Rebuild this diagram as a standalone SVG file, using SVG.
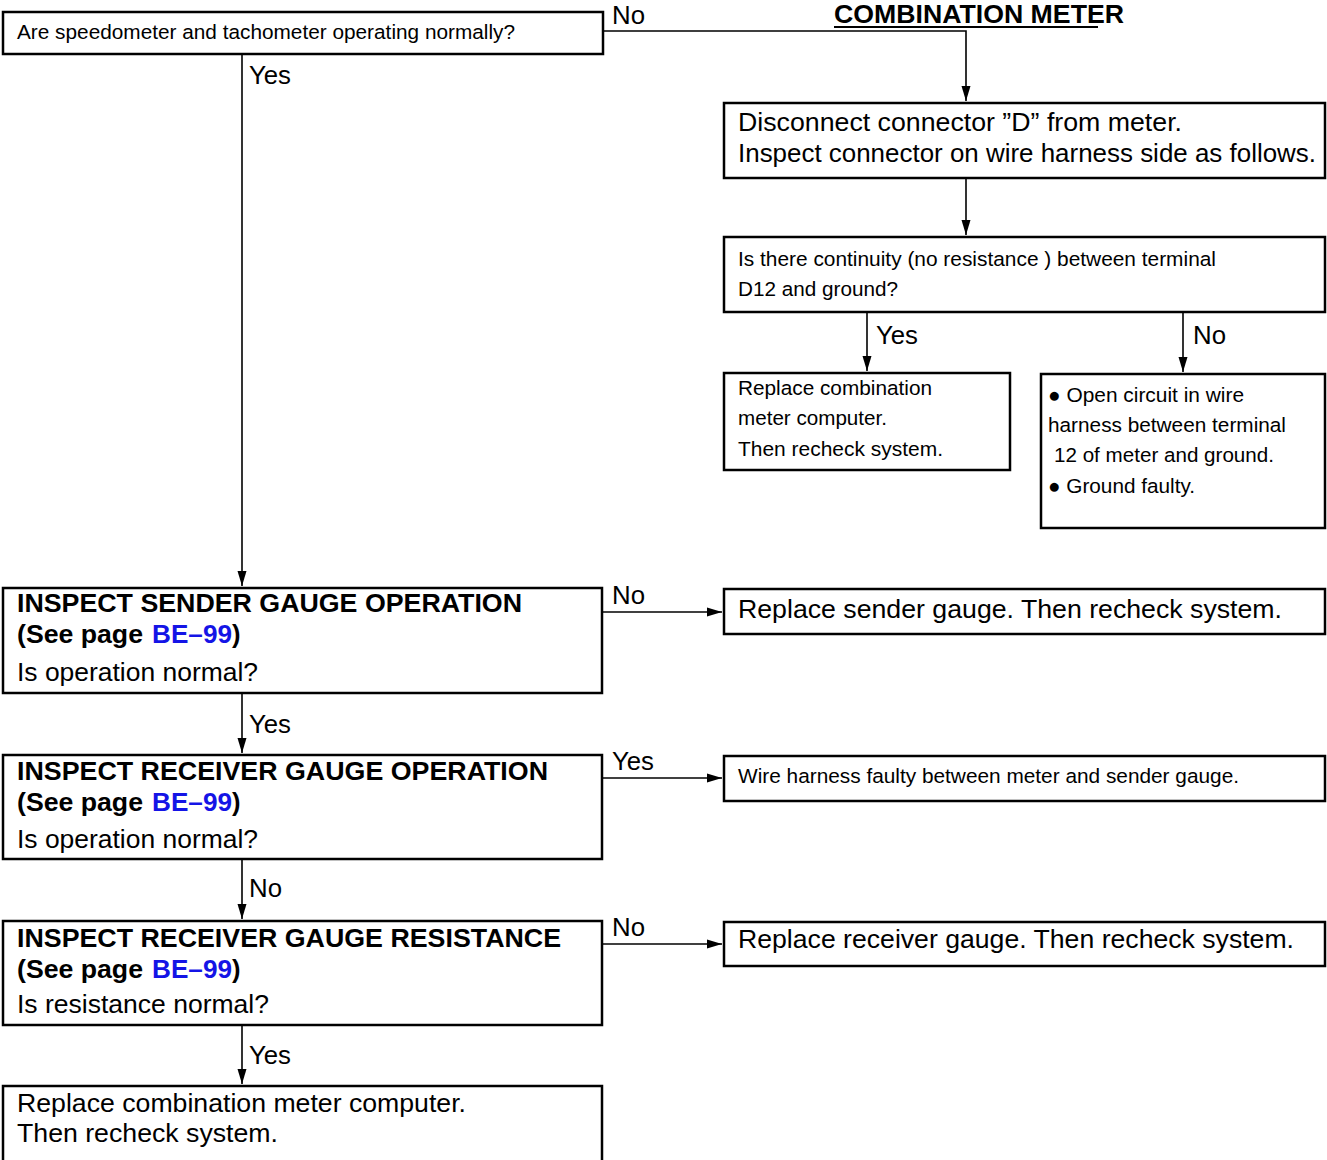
<svg xmlns="http://www.w3.org/2000/svg" width="1327" height="1160" viewBox="0 0 1327 1160">
  <style>
    .box { fill: #fff; stroke: #000; stroke-width: 2.5; }
    .wire { fill: none; stroke: #000; stroke-width: 1.6; }
    text { font-family: "Liberation Sans", Arial, sans-serif; fill: #000; }
    .s { font-size: 20.5px; }
    .m { font-size: 25.5px; }
    .b { font-size: 25.5px; font-weight: bold; }
    .link { fill: #1414e6; }
  </style>
  <defs>
    <marker id="arr" markerUnits="userSpaceOnUse" markerWidth="16" markerHeight="10" refX="15" refY="5" orient="auto">
      <path d="M0,0.5 L15,5 L0,9.5 Z" fill="#000"/>
    </marker>
  </defs>
  <rect width="1327" height="1160" fill="#fff"/>

  <!-- connectors and their branch labels -->
  <g id="connectors">
    <path class="wire" d="M603,31 H966 V101" marker-end="url(#arr)"/>
    <path class="wire" d="M966,178 V235" marker-end="url(#arr)"/>
    <path class="wire" d="M867,312 V371" marker-end="url(#arr)"/>
    <path class="wire" d="M1183,312 V372" marker-end="url(#arr)"/>
    <path class="wire" d="M242,54 V586" marker-end="url(#arr)"/>
    <path class="wire" d="M602,612 H722" marker-end="url(#arr)"/>
    <path class="wire" d="M242,693 V753" marker-end="url(#arr)"/>
    <path class="wire" d="M602,778 H722" marker-end="url(#arr)"/>
    <path class="wire" d="M242,859 V919" marker-end="url(#arr)"/>
    <path class="wire" d="M602,944 H722" marker-end="url(#arr)"/>
    <path class="wire" d="M242,1025 V1084" marker-end="url(#arr)"/>
    <text class="m" x="612" y="24" textLength="33" lengthAdjust="spacingAndGlyphs">No</text>
    <text class="m" x="249" y="84" textLength="42" lengthAdjust="spacingAndGlyphs">Yes</text>
    <text class="m" x="876" y="344" textLength="42" lengthAdjust="spacingAndGlyphs">Yes</text>
    <text class="m" x="1193" y="344" textLength="33" lengthAdjust="spacingAndGlyphs">No</text>
    <text class="m" x="612" y="604" textLength="33" lengthAdjust="spacingAndGlyphs">No</text>
    <text class="m" x="249" y="733" textLength="42" lengthAdjust="spacingAndGlyphs">Yes</text>
    <text class="m" x="612" y="770" textLength="42" lengthAdjust="spacingAndGlyphs">Yes</text>
    <text class="m" x="249" y="897" textLength="33" lengthAdjust="spacingAndGlyphs">No</text>
    <text class="m" x="612" y="936" textLength="33" lengthAdjust="spacingAndGlyphs">No</text>
    <text class="m" x="249" y="1064" textLength="42" lengthAdjust="spacingAndGlyphs">Yes</text>
  </g>

  <!-- heading -->
  <g id="title">
    <text class="b" x="834" y="23" textLength="290" lengthAdjust="spacingAndGlyphs">COMBINATION METER</text>
    <line x1="834" y1="27" x2="1098" y2="27" stroke="#000" stroke-width="2"/>
  </g>

  <g id="q-speedometer">
    <rect class="box" x="3" y="12" width="600" height="42"/>
    <text class="s" x="17" y="39" textLength="498" lengthAdjust="spacingAndGlyphs">Are speedometer and tachometer operating normally?</text>
  </g>

  <g id="disconnect-d">
    <rect class="box" x="724" y="103" width="601" height="75"/>
    <text class="m" x="738" y="131" textLength="444" lengthAdjust="spacingAndGlyphs">Disconnect connector ”D” from meter.</text>
    <text class="m" x="738" y="162" textLength="578" lengthAdjust="spacingAndGlyphs">Inspect connector on wire harness side as follows.</text>
  </g>

  <g id="q-continuity">
    <rect class="box" x="724" y="237" width="601" height="75"/>
    <text class="s" x="738" y="266" textLength="478" lengthAdjust="spacingAndGlyphs">Is there continuity (no resistance ) between terminal</text>
    <text class="s" x="738" y="296" textLength="160" lengthAdjust="spacingAndGlyphs">D12 and ground?</text>
  </g>

  <g id="replace-computer-1">
    <rect class="box" x="724" y="373" width="286" height="97"/>
    <text class="s" x="738" y="395" textLength="194" lengthAdjust="spacingAndGlyphs">Replace combination</text>
    <text class="s" x="738" y="425" textLength="149" lengthAdjust="spacingAndGlyphs">meter computer.</text>
    <text class="s" x="738" y="456" textLength="205" lengthAdjust="spacingAndGlyphs">Then recheck system.</text>
  </g>

  <g id="open-circuit">
    <rect class="box" x="1041" y="374" width="284" height="154"/>
    <text class="s" x="1048" y="402" textLength="196" lengthAdjust="spacingAndGlyphs">● Open circuit in wire</text>
    <text class="s" x="1048" y="432" textLength="238" lengthAdjust="spacingAndGlyphs">harness between terminal</text>
    <text class="s" x="1054" y="462" textLength="220" lengthAdjust="spacingAndGlyphs">12 of meter and ground.</text>
    <text class="s" x="1048" y="493" textLength="147" lengthAdjust="spacingAndGlyphs">● Ground faulty.</text>
  </g>

  <g id="sender-operation">
    <rect class="box" x="3" y="588" width="599" height="105"/>
    <text class="b" x="17" y="612" textLength="505" lengthAdjust="spacingAndGlyphs">INSPECT SENDER GAUGE OPERATION</text>
    <text class="b" x="17" y="643" textLength="126" lengthAdjust="spacingAndGlyphs">(See page</text>
    <text class="b link" x="152" y="643" textLength="80" lengthAdjust="spacingAndGlyphs">BE–99</text>
    <text class="b" x="232" y="643">)</text>
    <text class="m" x="17" y="681" textLength="241" lengthAdjust="spacingAndGlyphs">Is operation normal?</text>
  </g>

  <g id="replace-sender">
    <rect class="box" x="724" y="589" width="601" height="45"/>
    <text class="m" x="738" y="618" textLength="544" lengthAdjust="spacingAndGlyphs">Replace sender gauge. Then recheck system.</text>
  </g>

  <g id="receiver-operation">
    <rect class="box" x="3" y="755" width="599" height="104"/>
    <text class="b" x="17" y="780" textLength="531" lengthAdjust="spacingAndGlyphs">INSPECT RECEIVER GAUGE OPERATION</text>
    <text class="b" x="17" y="811" textLength="126" lengthAdjust="spacingAndGlyphs">(See page</text>
    <text class="b link" x="152" y="811" textLength="80" lengthAdjust="spacingAndGlyphs">BE–99</text>
    <text class="b" x="232" y="811">)</text>
    <text class="m" x="17" y="848" textLength="241" lengthAdjust="spacingAndGlyphs">Is operation normal?</text>
  </g>

  <g id="harness-faulty">
    <rect class="box" x="724" y="756" width="601" height="45"/>
    <text class="s" x="738" y="783" textLength="501" lengthAdjust="spacingAndGlyphs">Wire harness faulty between meter and sender gauge.</text>
  </g>

  <g id="receiver-resistance">
    <rect class="box" x="3" y="921" width="599" height="104"/>
    <text class="b" x="17" y="947" textLength="544" lengthAdjust="spacingAndGlyphs">INSPECT RECEIVER GAUGE RESISTANCE</text>
    <text class="b" x="17" y="978" textLength="126" lengthAdjust="spacingAndGlyphs">(See page</text>
    <text class="b link" x="152" y="978" textLength="80" lengthAdjust="spacingAndGlyphs">BE–99</text>
    <text class="b" x="232" y="978">)</text>
    <text class="m" x="17" y="1013" textLength="252" lengthAdjust="spacingAndGlyphs">Is resistance normal?</text>
  </g>

  <g id="replace-receiver">
    <rect class="box" x="724" y="922" width="601" height="44"/>
    <text class="m" x="738" y="948" textLength="556" lengthAdjust="spacingAndGlyphs">Replace receiver gauge. Then recheck system.</text>
  </g>

  <g id="replace-computer-2">
    <rect class="box" x="3" y="1086" width="599" height="80"/>
    <text class="m" x="17" y="1112" textLength="449" lengthAdjust="spacingAndGlyphs">Replace combination meter computer.</text>
    <text class="m" x="17" y="1142" textLength="261" lengthAdjust="spacingAndGlyphs">Then recheck system.</text>
  </g>
</svg>
